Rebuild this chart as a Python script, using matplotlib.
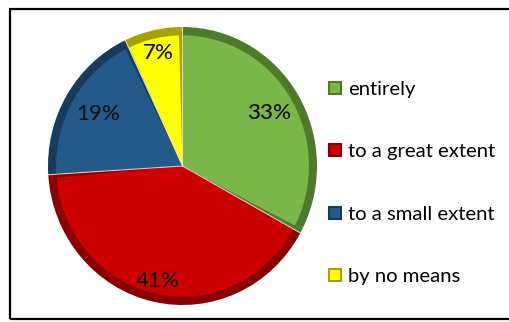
import numpy as np
import matplotlib.pyplot as plt
from matplotlib.patches import Wedge, Rectangle
from matplotlib.lines import Line2D

plt.rcParams['font.family'] = ['Lato', 'DejaVu Sans']

labels = ['entirely', 'to a great extent', 'to a small extent', 'by no means']
shares = [33, 41, 19, 7]
light = ['#7ab648', '#cc0000', '#245a8a', '#ffff00']
dark = ['#4f7a2c', '#8a0000', '#173b5c', '#a8a000']
label_dist = [0.75, 0.85, 0.73, 0.83]

W, H = 509, 322
fig = plt.figure(figsize=(W / 100, H / 100), dpi=100)
fig.patch.set_facecolor('white')

# outer frame, right side runs off the canvas
fig.add_artist(Rectangle((10 / W, 3 / H), 1.2, 310 / H, transform=fig.transFigure,
                         fill=False, edgecolor='black', linewidth=1.6))

# pie box in pixels: left 48, right 317, top 27, bottom 305
ax = fig.add_axes([48 / W, (H - 305) / H, 269 / W, 278 / H])
ax.set_xlim(-1, 1)
ax.set_ylim(-1, 1)
ax.axis('off')

total = sum(shares)
start = 90.0
for v, lc, dc, d in zip(shares, light, dark, label_dist):
    span = 360.0 * v / total
    t1, t2 = start - span, start
    # dark body gives the bevelled rim, lighter face sits inside it
    ax.add_patch(Wedge((0, 0), 1.0, t1, t2, facecolor=dc, edgecolor='none'))
    ax.add_patch(Wedge((0, 0), 0.94, t1 + 1.6, t2 - 0.3, facecolor=lc,
                       edgecolor='none'))
    ax.plot([0, np.cos(np.radians(t2))], [0, np.sin(np.radians(t2))],
            color='#e8e8e8', linewidth=0.8, alpha=0.8)
    mid = np.radians((t1 + t2) / 2)
    ax.text(d * np.cos(mid), d * np.sin(mid), f'{v}%', ha='center', va='center',
            fontsize=16, fontweight='medium', color='#111111')
    start = t1

handles = [Line2D([], [], linestyle='none', marker='s', markersize=8,
                  markerfacecolor=lc, markeredgecolor=dc, markeredgewidth=1.5)
           for lc, dc in zip(light, dark)]
fig.legend(handles, labels, loc='center left', bbox_to_anchor=(320 / W, (H - 183) / H),
           frameon=False, fontsize=14.6, labelspacing=2.22, handlelength=0.7,
           handletextpad=0.3, borderaxespad=0)

fig.savefig('out.png', dpi=100)
